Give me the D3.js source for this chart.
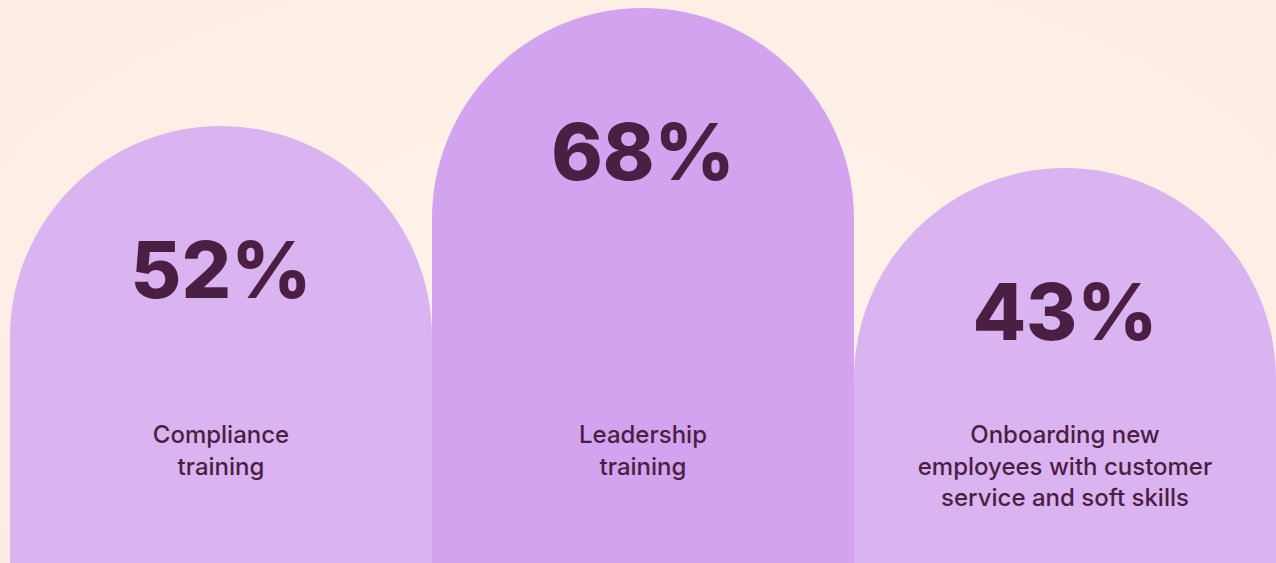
<!DOCTYPE html>
<html>
  <head>
    <title>Training arches</title>
    <script src="https://d3js.org/d3.v7.min.js"></script>
    <style>
      body { margin: 0; overflow: hidden; }
      svg { display: block; }
    </style>
  </head>
  <body>
    <script>
      const categories = ['Compliance training', 'Leadership training', 'Onboarding new employees with customer service and soft skills'];
      const values = [52, 68, 43];
      const labelLines = [
        ['Compliance', 'training'],
        ['Leadership', 'training'],
        ['Onboarding new', 'employees with customer', 'service and soft skills']
      ];
      const barColors = ['#dab4f1', '#d2a3ee', '#dab4f1'];

      const w = 1276;
      const h = 563;
      const ink = '#4b1f43';

      const svg = d3.select('body')
                    .append('svg')
                    .attr('width', w)
                    .attr('height', h);

      const defs = svg.append('defs');
      const grad = defs.append('radialGradient')
                       .attr('id', 'bg')
                       .attr('cx', '50%').attr('cy', '45%').attr('r', '75%');
      grad.append('stop').attr('offset', '0%').attr('stop-color', '#fff3ea');
      grad.append('stop').attr('offset', '100%').attr('stop-color', '#fdebe3');

      svg.append('rect')
         .attr('width', w)
         .attr('height', h)
         .attr('fill', 'url(#bg)');

      const xScale = d3.scaleBand()
                       .domain(categories)
                       .range([10, w])
                       .padding(0);

      // arch top for each value (tops in the picture are not linear in value)
      const yScale = d3.scaleLinear()
                       .domain([43, 52, 68])
                       .range([168, 126, 8]);

      const r = xScale.bandwidth() / 2;

      const arch = d => {
        const x0 = xScale(d.cat);
        const x1 = x0 + xScale.bandwidth();
        const top = yScale(d.value);
        return `M${x0},${h + 5} L${x0},${top + r} A${r},${r} 0 0 1 ${x1},${top + r} L${x1},${h + 5} Z`;
      };

      const data = categories.map((c, i) => ({ cat: c, value: values[i], lines: labelLines[i], color: barColors[i] }));

      const g = svg.selectAll('g.bar')
                   .data(data)
                   .enter()
                   .append('g')
                   .attr('class', 'bar');

      g.append('path')
       .attr('d', arch)
       .attr('fill', d => d.color);

      g.append('text')
       .attr('x', d => xScale(d.cat) + r)
       .attr('y', d => yScale(d.value) + 172)
       .attr('text-anchor', 'middle')
       .attr('font-family', 'Inter, sans-serif')
       .attr('font-weight', 800)
       .attr('font-size', 78)
       .attr('fill', ink)
       .text(d => d.value + '%');

      g.append('text')
       .attr('text-anchor', 'middle')
       .attr('font-family', 'Inter, sans-serif')
       .attr('font-weight', 500)
       .attr('font-size', 24)
       .attr('fill', ink)
       .selectAll('tspan')
       .data(d => d.lines.map(l => ({ l, x: xScale(d.cat) + r })))
       .enter()
       .append('tspan')
       .attr('x', d => d.x)
       .attr('y', (d, i) => 443 + i * 31.5)
       .text(d => d.l);
    </script>
  </body>
</html>
